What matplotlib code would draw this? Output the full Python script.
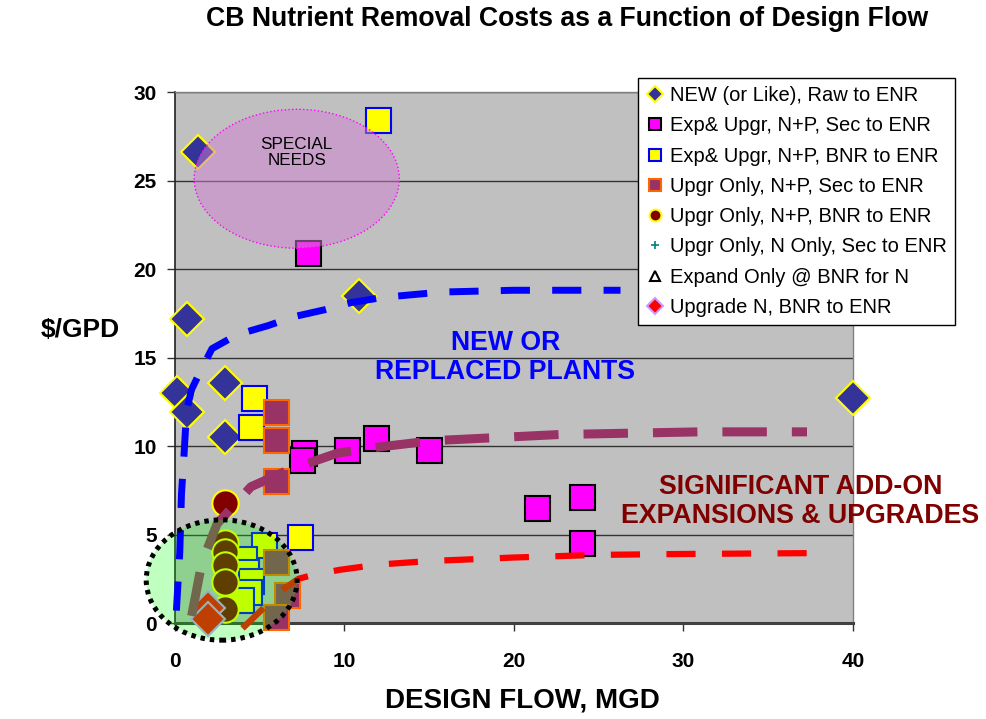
import matplotlib
matplotlib.use("Agg")
import matplotlib.pyplot as plt
from matplotlib.patches import Ellipse

plt.rcParams["font.family"] = ["Liberation Sans", "DejaVu Sans"]
plt.rcParams["lines.scale_dashes"] = False

# --- data ---
new_x = [1.4, 0.75, 10.9, 0.15, 2.95, 0.75, 2.95, 40.0]
new_y = [26.6, 17.2, 18.5, 13.0, 13.55, 11.9, 10.5, 12.7]

exp_sec_x = [7.85, 7.65, 7.5, 10.15, 11.9, 15.0, 21.4, 24.0, 24.0]
exp_sec_y = [20.9, 9.6, 9.2, 9.8, 10.45, 9.8, 6.5, 7.1, 4.5]

exp_bnr_x = [12.0, 4.7, 4.5, 7.4, 5.25, 4.1, 4.2, 4.5, 4.4, 3.9]
exp_bnr_y = [28.4, 12.7, 11.1, 4.85, 4.4, 3.6, 2.9, 2.4, 1.75, 1.3]

upg_sec_x = [5.95, 5.95, 5.95, 6.0, 6.6, 6.0]
upg_sec_y = [11.9, 10.35, 8.0, 3.45, 1.6, 0.35]

upg_bnr_x = [2.95, 2.95, 2.95, 2.95, 2.95, 2.95]
upg_bnr_y = [6.8, 4.5, 4.0, 3.3, 2.3, 0.8]

upg_n_only_x = []
upg_n_only_y = []

expand_only_x = []
expand_only_y = []

upg_n_bnr_x = [1.95, 1.95]
upg_n_bnr_y = [0.85, 0.2]

# hand-drawn trend curves
new_curve_x = [0.1, 0.3, 0.4, 0.55, 0.7, 1.0, 1.5, 2.2, 3.7, 5.5, 7.0, 8.85, 10.4, 12.3, 15.75, 20.0, 26.3]
new_curve_y = [0.7, 4.0, 7.3, 9.5, 12.0, 13.2, 14.2, 15.5, 16.3, 16.8, 17.3, 17.7, 18.1, 18.4, 18.7, 18.8, 18.8]

upg_curve_x = [1.0, 1.6, 2.5, 4.5, 6.6, 9.6, 12.1, 15.2, 22.7, 31.0, 37.3]
upg_curve_y = [0.4, 3.4, 5.6, 7.7, 8.6, 9.6, 9.95, 10.3, 10.65, 10.8, 10.8]

addon_curve_x = [4.0, 5.3, 6.4, 7.3, 8.1, 9.7, 12.0, 15.0, 20.0, 25.0, 30.0, 37.8]
addon_curve_y = [-0.3, 0.9, 1.9, 2.5, 2.7, 3.0, 3.3, 3.5, 3.7, 3.85, 3.9, 3.95]

x_ticks = [0, 10, 20, 30, 40]
y_ticks = [0, 5, 10, 15, 20, 25, 30]

fig = plt.figure(figsize=(9.87, 7.19), dpi=100)
ax = fig.add_axes([0.177, 0.1335, 0.687, 0.7385])
ax.set_facecolor("#c0c0c0")
ax.set_xlim(0, 40)
ax.set_ylim(0, 30)

ax.set_xticks(x_ticks)
ax.set_yticks(y_ticks)
ax.yaxis.grid(True, color="#333333", linewidth=1.0)
ax.set_axisbelow(True)
ax.tick_params(axis="both", labelsize=15, length=6, width=1, color="#333333")
ax.tick_params(axis="x", pad=15)
ax.tick_params(axis="y", pad=7)
for lab in ax.get_xticklabels() + ax.get_yticklabels():
    lab.set_fontweight("bold")
for s in ["top", "right"]:
    ax.spines[s].set_color("#808080")
    ax.spines[s].set_linewidth(1.0)
ax.spines["left"].set_color("#222222")
ax.spines["left"].set_linewidth(1.2)
ax.spines["bottom"].set_color("#404040")
ax.spines["bottom"].set_linewidth(2.2)

mk = dict(ls="none", zorder=3, clip_on=False)
ax.plot(new_x, new_y, "D", ms=17, mfc="#333399", mec="#ffff00", mew=1.5,
        label="NEW (or Like), Raw to ENR", **mk)
ax.plot(exp_sec_x, exp_sec_y, "s", ms=18, mfc="#ff00ff", mec="black", mew=1.5,
        label="Exp& Upgr, N+P, Sec to ENR", **mk)
ax.plot(exp_bnr_x, exp_bnr_y, "s", ms=18, mfc="#ffff00", mec="#0000ff", mew=1.5,
        label="Exp& Upgr, N+P, BNR to ENR", **mk)
ax.plot(upg_sec_x, upg_sec_y, "s", ms=18, mfc="#993366", mec="#ff6600", mew=1.5,
        label="Upgr Only, N+P, Sec to ENR", **mk)
ax.plot(upg_bnr_x, upg_bnr_y, "o", ms=19, mfc="#800000", mec="#ffff00", mew=1.5,
        label="Upgr Only, N+P, BNR to ENR", **mk)
ax.plot(upg_n_only_x, upg_n_only_y, "+", ms=12, mec="#008080", mew=1.2,
        label="Upgr Only, N Only, Sec to ENR", **mk)
ax.plot(expand_only_x, expand_only_y, "^", ms=17, mfc="white", mec="black", mew=1.5,
        label="Expand Only @ BNR for N", **mk)
ax.plot(upg_n_bnr_x, upg_n_bnr_y, "D", ms=17, mfc="#ff0000", mec="#cc99ff", mew=1.5,
        label="Upgrade N, BNR to ENR", **mk)

# trend curves
ax.plot(upg_curve_x, upg_curve_y, color="#993366", lw=6.5, dashes=(32, 18),
        dash_capstyle="butt", zorder=4, clip_on=False)
ax.plot(addon_curve_x, addon_curve_y, color="#ff0000", lw=4.5, dashes=(21, 19),
        dash_capstyle="butt", zorder=4, clip_on=False)

# green overlay on the small-plant cluster
ax.add_patch(Ellipse((2.77, 2.43), 8.9, 6.8, facecolor=(0, 1, 0, 0.25), edgecolor="none",
                     zorder=5, clip_on=False))
ax.plot(new_curve_x, new_curve_y, color="#0000ff", lw=5, dashes=(21, 16),
        dash_capstyle="butt", zorder=6, clip_on=False)
ax.add_patch(Ellipse((2.77, 2.43), 8.9, 6.8, facecolor="none", edgecolor="black",
                     lw=3.6, linestyle=(0, (3.2, 3.6)), zorder=7, clip_on=False))

# special needs bubble
ax.add_patch(Ellipse((7.2, 25.1), 12.1, 7.85, facecolor=(0.816, 0.5, 0.816, 0.5),
                     edgecolor="#ff00ff", lw=1, linestyle=":", zorder=5))
ax.text(7.2, 26.6, "SPECIAL\nNEEDS", ha="center", va="center", fontsize=12.3,
        linespacing=1.1, zorder=8)

ax.text(19.5, 15.0, "NEW OR\nREPLACED PLANTS", ha="center", va="center", fontsize=19.2,
        fontweight="bold", color="#0000ff", linespacing=1.12, zorder=8)
ax.text(36.9, 6.85, "SIGNIFICANT ADD-ON\nEXPANSIONS & UPGRADES", ha="center", va="center",
        fontsize=19.3, fontweight="bold", color="#800000", linespacing=1.15, zorder=8,
        clip_on=False)

fig.text(0.575, 0.973, "CB Nutrient Removal Costs as a Function of Design Flow",
         ha="center", va="center", fontsize=19.2, fontweight="bold")
fig.text(0.081, 0.541, "\\$/GPD", ha="center", va="center", fontsize=19, fontweight="bold")
fig.text(0.529, 0.026, "DESIGN FLOW, MGD", ha="center", va="center", fontsize=20,
         fontweight="bold")

leg = ax.legend(loc="upper left", bbox_to_anchor=(0.646, 0.8915), bbox_transform=fig.transFigure,
                borderaxespad=0, fontsize=14.5, markerscale=0.45, handlelength=0.9,
                handletextpad=0.3, labelspacing=0.56, borderpad=0.4, fancybox=False,
                framealpha=1, edgecolor="black")
leg.get_frame().set_linewidth(1.0)
leg.set_zorder(20)

fig.savefig("out.png", dpi=100)
